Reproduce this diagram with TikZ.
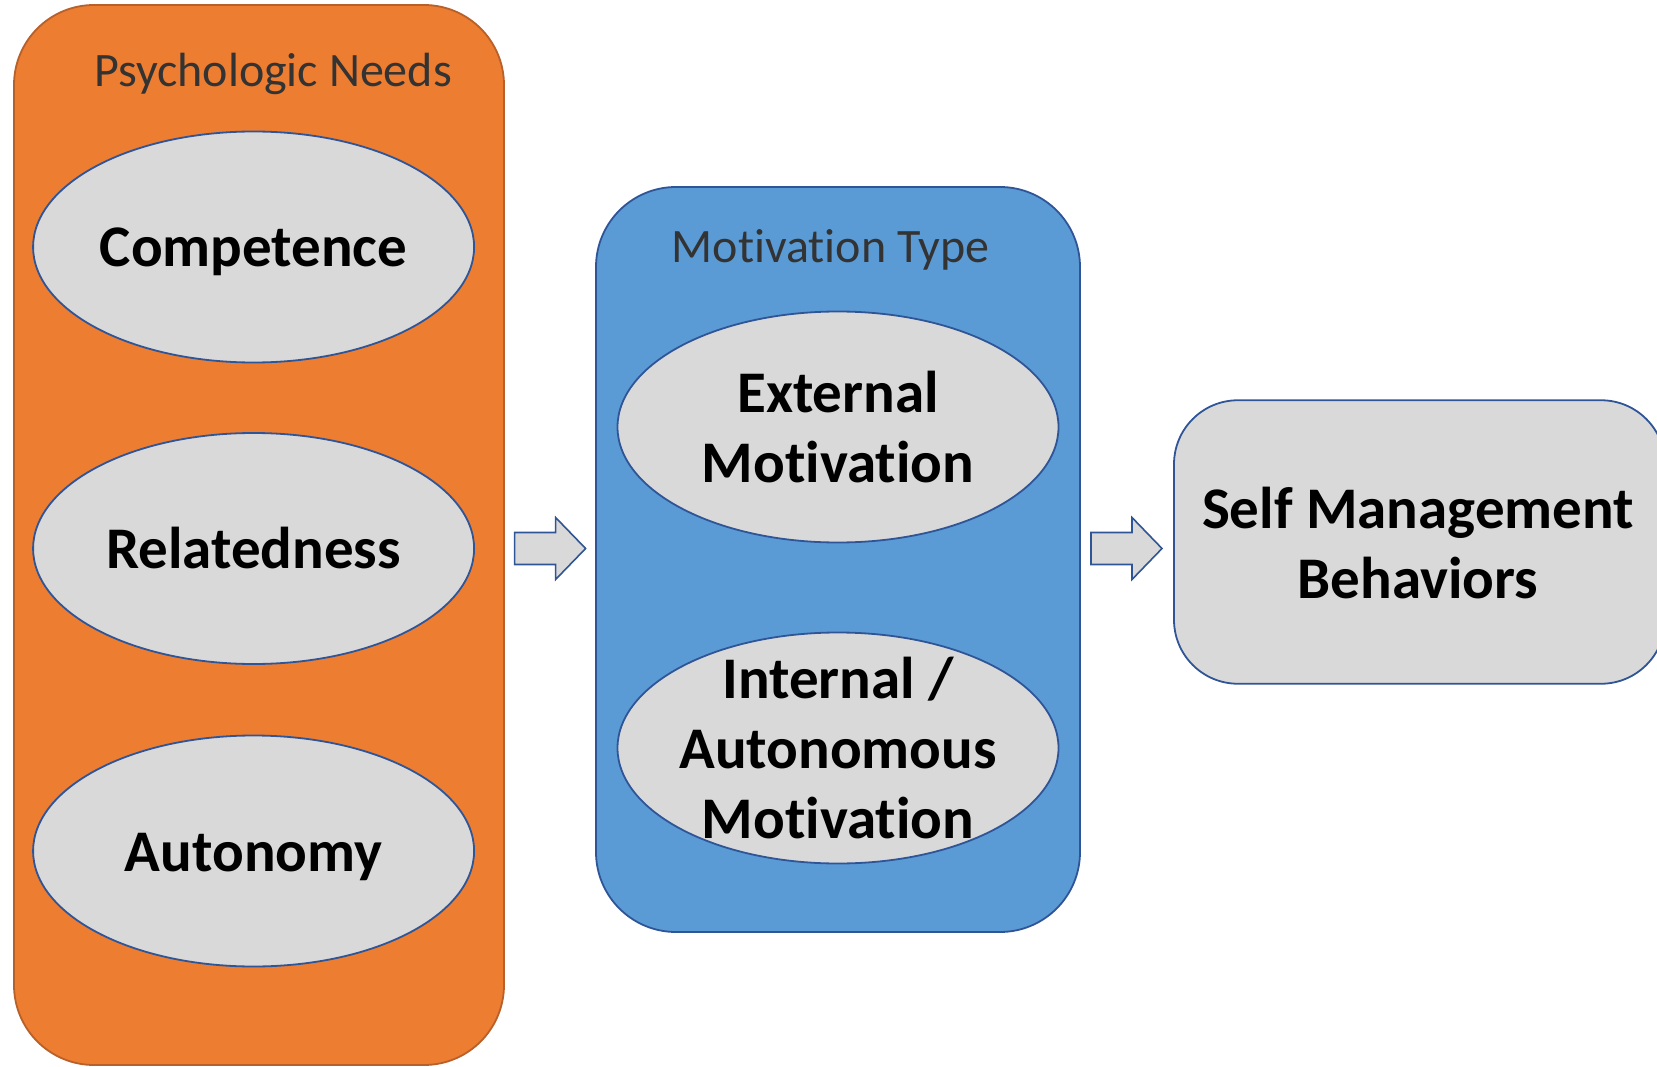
\documentclass[tikz,border=0pt]{standalone}
\usepackage{fontspec}
\setmainfont{Carlito}[Ligatures=NoCommon]
\usetikzlibrary{shapes.geometric}
\definecolor{orangefill}{HTML}{ED7D31}
\definecolor{orangeline}{HTML}{B8602A}
\definecolor{bluefill}{HTML}{5B9BD5}
\definecolor{blueline}{HTML}{2F5597}
\definecolor{grayfill}{HTML}{D9D9D9}
\definecolor{titlegray}{HTML}{333333}
\begin{document}
\begin{tikzpicture}[x=1pt,y=-1pt,
  groupbox/.style={rounded corners=80pt, line width=1.8pt, inner sep=0pt},
  oval/.style={ellipse, draw=blueline, fill=grayfill, line width=1.8pt,
    minimum width=441pt, minimum height=231pt, inner sep=0pt},
  bigtext/.style={align=center, font=\fontsize{59}{70}\selectfont\bfseries},
  oneline/.style={bigtext, text depth=0pt, text height=40pt},
  title/.style={text=titlegray, font=\fontsize{48}{57}\selectfont},
  blockarrow/.style={draw=blueline, fill=grayfill, line width=1.6pt, line join=miter}]
\useasboundingbox (0,0) rectangle (1657,1067);
\clip (0,0) rectangle (1657,1067);
% groups
\node[groupbox, draw=orangeline, fill=orangefill, minimum width=490pt, minimum height=1060pt] (needs) at (259,535) {};
\node[groupbox, draw=blueline, fill=bluefill, minimum width=484pt, minimum height=745pt] (motiv) at (838,559.5) {};
\node[groupbox, rounded corners=64pt, draw=blueline, fill=grayfill, minimum width=491pt, minimum height=283.5pt] (self) at (1419.5,542) {};
\node[bigtext] (selft) at (1418,543) {Self Management\\Behaviors};
% titles
\node[title] (needst) at (273,74) {Psychologic Needs};
\node[title] (motivt) at (830.6,250) {Motivation Type};
% ellipses
\node[oval] (comp) at (253.6,247) {};
\node[oval] (rel) at (253.6,548.5) {};
\node[oval] (aut) at (253.6,851) {};
\node[oval] (ext) at (838,427) {};
\node[oval] (int) at (838,748) {};
\node[oneline] (compt) at (comp.center) {Competence};
\node[oneline] (relt) at (rel.center) {Relatedness};
\node[oneline] (autt) at (aut.center) {Autonomy};
\node[bigtext] (extt) at (ext.center) {External\\Motivation};
\node[bigtext] (intt) at (int.center) {Internal /\\Autonomous\\Motivation};
% block arrows
\coordinate (a1) at (514.6,548.5);
\coordinate (a2) at (1091,548.5);
\foreach \c in {a1,a2}{
  \draw[blockarrow, shift={(\c)}] (0,-16) -- (41,-16) -- (41,-31) -- (71,0) -- (41,31) -- (41,16) -- (0,16) -- cycle;
}
\end{tikzpicture}
\end{document}
